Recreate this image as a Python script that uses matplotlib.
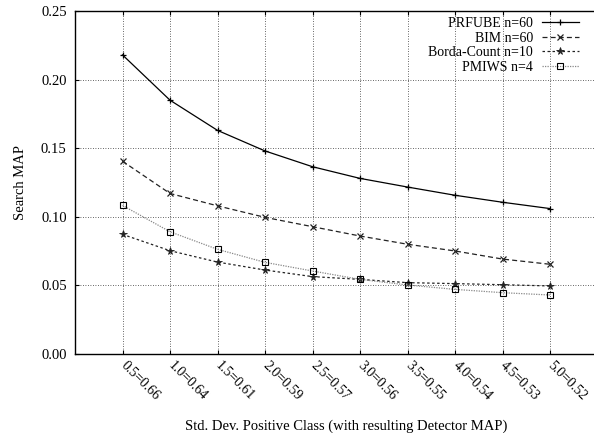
import numpy as np
import matplotlib
matplotlib.use('Agg')
import matplotlib.pyplot as plt

plt.rcParams['font.family'] = ['Liberation Serif', 'DejaVu Serif']

labels = ['0.5=0.66', '1.0=0.64', '1.5=0.61', '2.0=0.59', '2.5=0.57',
          '3.0=0.56', '3.5=0.55', '4.0=0.54', '4.5=0.53', '5.0=0.52']
prfube = [0.218, 0.185, 0.163, 0.148, 0.1365, 0.128, 0.1217, 0.1157, 0.1106, 0.106]
bim = [0.1405, 0.117, 0.108, 0.0996, 0.0928, 0.086, 0.080, 0.0751, 0.0692, 0.0654]
borda = [0.0872, 0.0753, 0.067, 0.0612, 0.0564, 0.0544, 0.052, 0.0513, 0.0505, 0.0496]
pmiws = [0.1083, 0.0891, 0.0763, 0.0668, 0.0605, 0.0544, 0.0503, 0.0471, 0.0447, 0.043]

x = np.arange(1, len(labels) + 1)

fig = plt.figure(figsize=(5.94, 4.33), dpi=100)
# axes runs a bit past the right edge of the picture, like the original crop
ax = fig.add_axes([75/594, (433-354)/433, 522.5/594, 343/433])

ax.plot(x, prfube, color='black', lw=0.9, ls='-', marker='+', ms=5, mew=0.9,
        label='PRFUBE n=60')
ax.plot(x, bim, color='#222222', lw=0.9, ls=(0, (4, 2.5)), marker='x', ms=4.5, mew=0.9,
        label='BIM n=60')
ax.plot(x, borda, color='#222222', lw=0.9, ls=(0, (2, 2)), marker='*', ms=5.5, mew=0.6,
        label='Borda-Count n=10')
ax.plot(x, pmiws, color='#888888', lw=0.9, ls=(0, (1, 1)), marker='s', ms=5,
        mfc='none', mec='black', mew=0.8, label='PMIWS n=4')

ax.set_xlim(0, 11)
ax.set_ylim(0, 0.25)
ax.set_yticks([0.0, 0.05, 0.10, 0.15, 0.20, 0.25])
ax.set_yticklabels(['0.00', '0.05', '0.10', '0.15', '0.20', '0.25'])
ax.set_xticks(x)
ax.set_xticklabels(labels, rotation=-45, ha='left', va='center', rotation_mode='anchor')
ax.tick_params(axis='both', direction='in', labelsize=10.5, length=3, width=0.8,
               top=True, right=False)
ax.tick_params(axis='x', pad=7, labelsize=10)
ax.tick_params(axis='y', pad=6)
ax.grid(True, color='#333333', ls=(0, (1, 2)), lw=0.6)
for s in ax.spines.values():
    s.set_linewidth(1.0)

ax.set_ylabel('Search MAP', fontsize=10.5, labelpad=10)
fig.text(346/594, 1 - 426/433, 'Std. Dev. Positive Class (with resulting Detector MAP)',
         fontsize=10.5, ha='center', va='center')

ax.legend(loc='upper right', bbox_to_anchor=(579/594, (433-17)/433),
          bbox_transform=fig.transFigure, frameon=False, markerfirst=False,
          fontsize=10, handlelength=2.7, labelspacing=0.12, handletextpad=0.6,
          borderaxespad=0, borderpad=0)

fig.savefig('out.png', dpi=100)
